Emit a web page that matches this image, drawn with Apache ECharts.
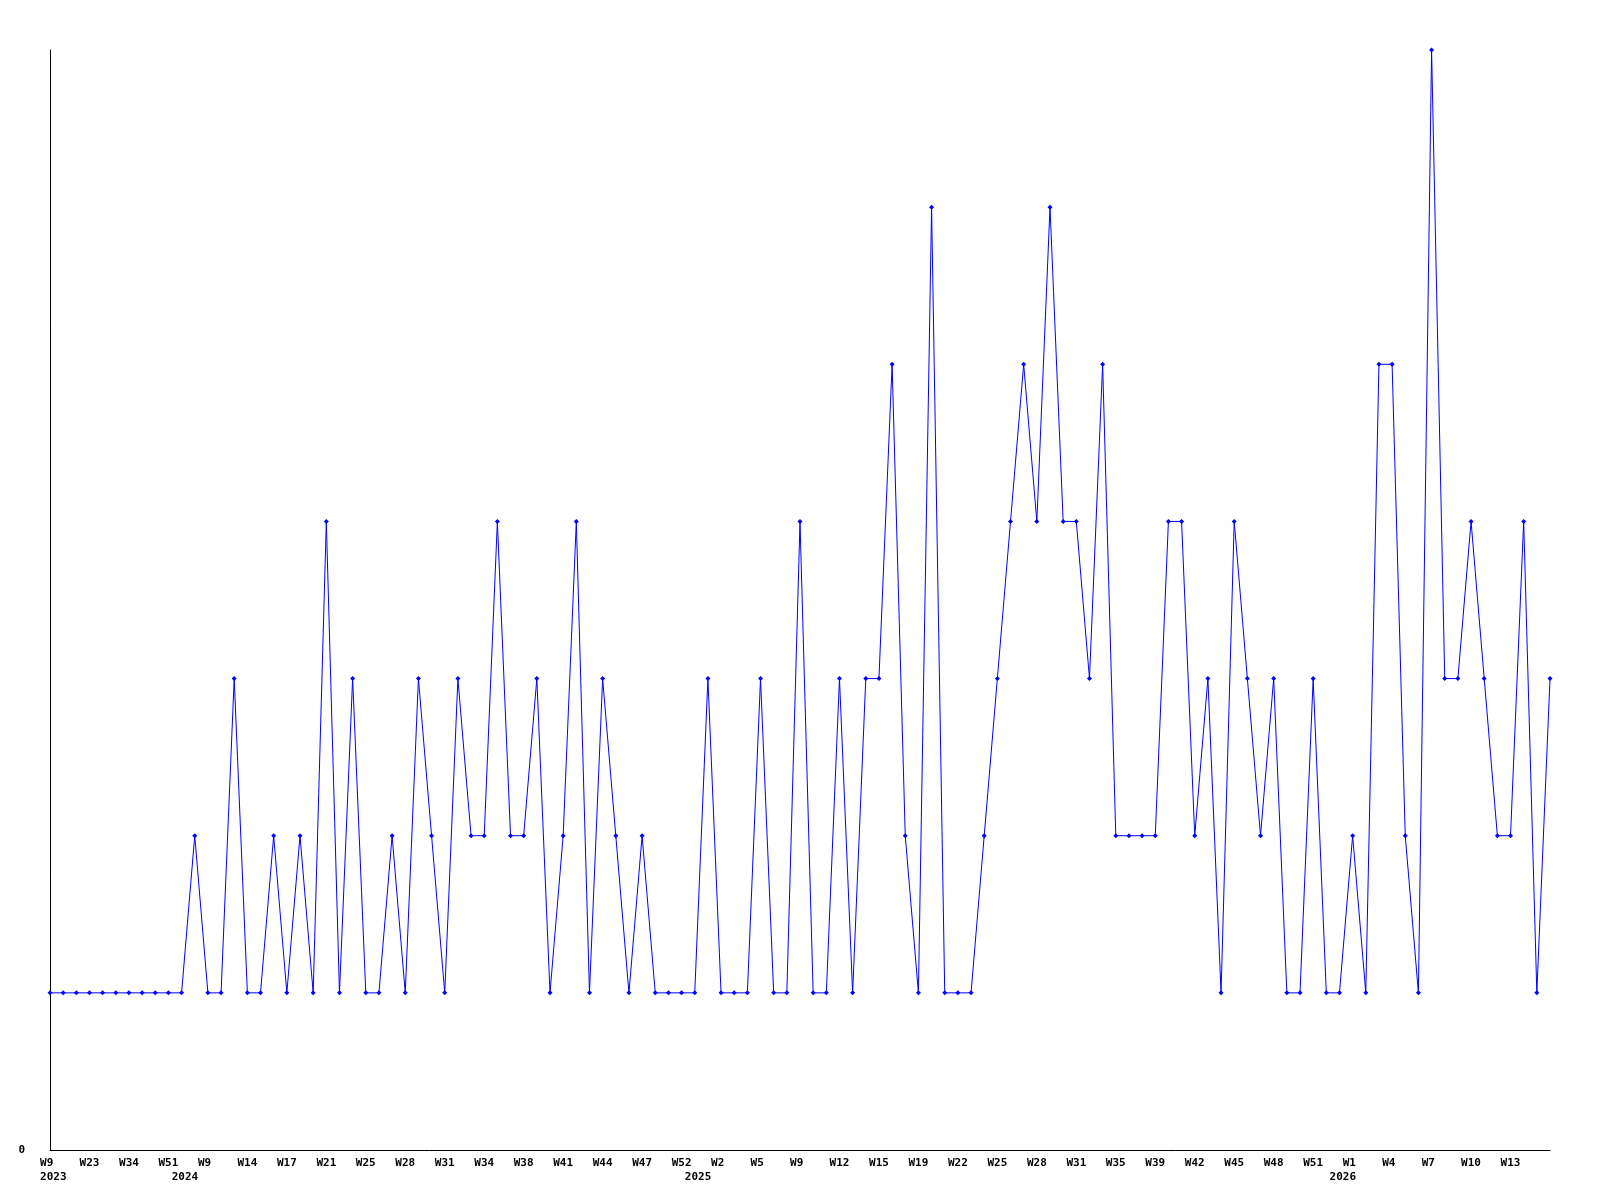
<!DOCTYPE html>
<html>
<head>
<meta charset="utf-8">
<style>
  html, body { margin: 0; padding: 0; background: #ffffff; }
  #chart { width: 1600px; height: 1200px; }
</style>
<script src="https://cdn.jsdelivr.net/npm/echarts@6/dist/echarts.min.js"></script>
</head>
<body>
<div id="chart"></div>
<script>
// Week categories (one per data point)
const weeks = [
  // 2023
  'W9','W13','W18','W23','W27','W31','W34','W39','W45','W51',
  // 2024
  'W0','W5','W9','W11','W12','W14','W15','W16','W17','W18','W20','W21','W23','W24','W25','W26','W27','W28','W29','W30',
  'W31','W32','W33','W34','W35','W36','W38','W39','W40','W41','W42','W43','W44','W45','W46','W47','W48','W50','W52',
  // 2025
  'W0','W1','W2','W3','W4','W5','W6','W8','W9','W10','W11','W12','W13','W14','W15','W16','W17','W19','W20','W21',
  'W22','W23','W24','W25','W26','W27','W28','W29','W30','W31','W32','W34','W35','W36','W37','W39','W40','W41','W42','W43',
  'W44','W45','W46','W47','W48','W49','W50','W51','W52',
  // 2026
  'W0','W1','W2','W3','W4','W5','W6','W7','W8','W9','W10','W11','W12','W13','W14','W15','W16'
];

// Values per week
const values = [
  1,1,1,1,1,1,1,1,1,1,
  1,2,1,1,3,1,1,2,1,2,1,4,1,3,1,1,2,1,3,2,
  1,3,2,2,4,2,2,3,1,2,4,1,3,2,1,2,1,1,1,
  1,3,1,1,1,3,1,1,4,1,1,3,1,3,3,5,2,1,6,1,
  1,1,2,3,4,5,4,6,4,4,3,5,2,2,2,2,4,4,2,3,
  1,4,3,2,3,1,1,3,1,
  1,2,1,5,5,2,1,7,3,3,4,3,2,2,4,1,3
];

// Year labels: [category index, text]
const yearTicks = [[0, '2023'], [10, '2024'], [49, '2025'], [98, '2026']];

const yearMap = {};
yearTicks.forEach(function (t) { yearMap[t[0]] = t[1]; });

const FONT = 'DejaVu Sans Mono';
const chart = echarts.init(document.getElementById('chart'), null, { renderer: 'canvas' });

chart.setOption({
  animation: false,
  backgroundColor: '#ffffff',
  grid: { left: 50, right: 50, top: 50, bottom: 50, containLabel: false },
  xAxis: [
    {
      type: 'category',
      data: weeks,
      boundaryGap: false,
      position: 'bottom',
      axisLine: { show: true, lineStyle: { color: '#000000', width: 1 } },
      axisTick: { show: false },
      splitLine: { show: false },
      axisLabel: {
        interval: 2,
        showMaxLabel: false,
        margin: 8,
        color: '#000000',
        fontFamily: FONT,
        fontWeight: 'bold',
        fontSize: 11,
        formatter: function (v) { return v.length < 3 ? v + '\u00a0' : v; }
      }
    },
    {
      type: 'category',
      data: weeks,
      boundaryGap: false,
      position: 'bottom',
      axisLine: { show: false },
      axisTick: { show: false },
      splitLine: { show: false },
      axisLabel: {
        interval: function (idx) { return yearMap[idx] !== undefined; },
        margin: 22,
        color: '#000000',
        fontFamily: FONT,
        fontWeight: 'bold',
        fontSize: 11,
        formatter: function (v, idx) { return yearMap[idx] ? '\u00a0' + yearMap[idx] : ''; }
      }
    }
  ],
  yAxis: {
    type: 'value',
    min: 0,
    max: 7,
    interval: 1,
    axisLine: { show: true, lineStyle: { color: '#000000', width: 1 } },
    axisTick: { show: false },
    splitLine: { show: false },
    axisLabel: {
      margin: 25,
      color: '#000000',
      fontFamily: FONT,
      fontWeight: 'bold',
      fontSize: 11,
      formatter: function (v) { return v === 0 ? '0' : ''; }
    }
  },
  series: [
    {
      type: 'line',
      xAxisIndex: 0,
      data: values,
      symbol: 'diamond',
      symbolSize: 5,
      showSymbol: true,
      lineStyle: { color: '#0000ff', width: 1 },
      itemStyle: { color: '#0000ff' },
      emphasis: { disabled: true }
    }
  ]
});
</script>
</body>
</html>
